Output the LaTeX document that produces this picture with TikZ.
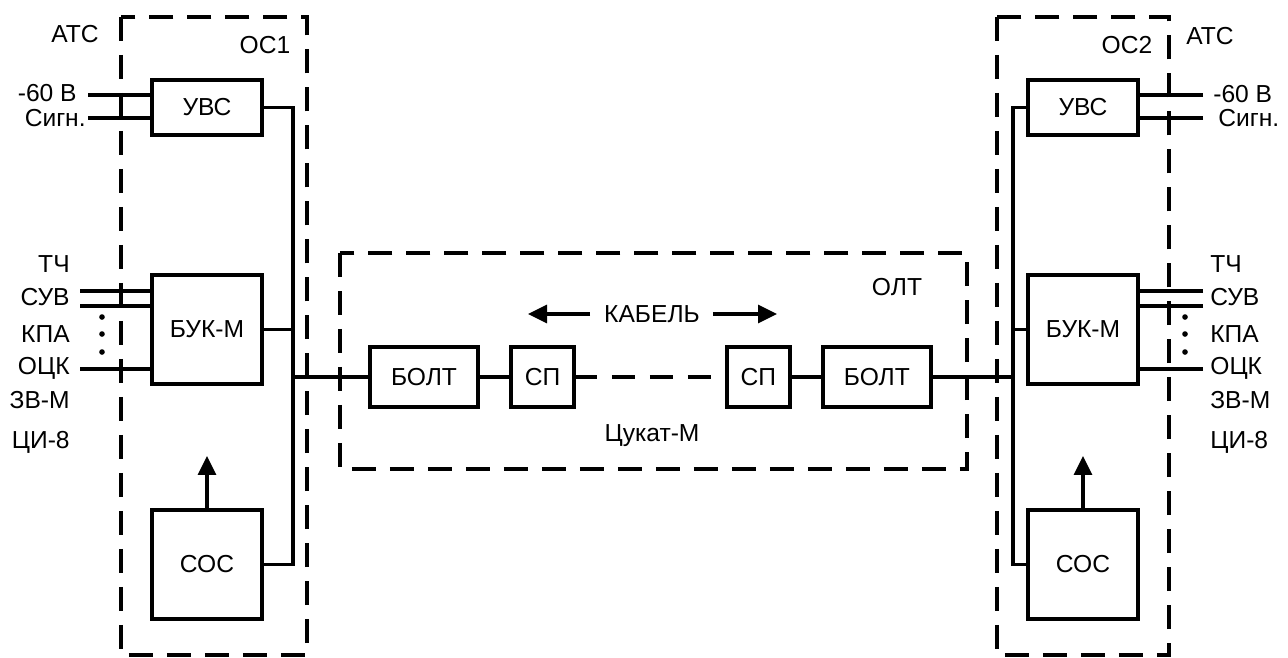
\documentclass[tikz,border=0pt]{standalone}
\usepackage{fontspec}
\setmainfont{Liberation Sans}
\usetikzlibrary{positioning,arrows.meta}
\newcommand{\myfont}{\fontsize{14pt}{16pt}\selectfont}
\newcommand{\minw}{2.2cm}
\newcommand{\minh}{1.1cm}
\newcommand{\minhb}{2.18cm}
\newcommand{\boltw}{2.16cm}
\newcommand{\spw}{1.26cm}
\newcommand{\olth}{1.2cm}
\newcommand{\xdist}{0.66cm}
\newcommand{\xdistb}{3.06cm}
\newcommand{\ydist}{2.8cm}
\newcommand{\ydistb}{2.52cm}

\tikzset{
  block/.style={rectangle, draw=black, line width=1.9pt, fill=white,
    inner sep=1pt, outer sep=0pt, text centered, font=\myfont},
  frame/.style={draw=black, line width=2.6pt, dash pattern=on 0.48cm off 0.28cm},
  wire/.style={draw=black, line width=1.8pt},
  lbl/.style={inner sep=0pt, font=\myfont},
  arr/.style={wire, -{Triangle[length=0.38cm,width=0.36cm]}},
  dotmark/.style={circle, fill=black, inner sep=0pt, minimum size=3.2pt}
}

\begin{document}
\begin{tikzpicture}[x=0.02cm, y=-0.02cm]

  \useasboundingbox (0,0) rectangle (1288,657);

  %%%%%%%%%%%%%%%%%%%%%%%%%%%%%%%%%%%%%%%%%%%%%%%%%%%%%%%%%%%%%%%%%%%%%%%%
  %%%%%%%%%%% frames
  %%%%%%%%%%%%%%%%%%%%%%%%%%%%%%%%%%%%%%%%%%%%%%%%%%%%%%%%%%%%%%%%%%%%%%%%

  % OS1 frame
  \draw[frame] (121,17) rectangle (307,655);
  % OS2 frame
  \draw[frame] (997,17) rectangle (1169,655);
  % OLT frame
  \draw[frame] (340,253) rectangle (967,469);

  %%%%%%%%%%% left station OS1

  % UVS
  \node[block, minimum width=\minw, minimum height=\minh] (uvsl) at (207,107.5) {УВС};

  % BUK-M
  \node[block, minimum width=\minw, minimum height=\minhb,
  below=\ydist of uvsl] (bukl) {БУК-М};

  % SOS
  \node[block, minimum width=\minw, minimum height=\minhb,
  below=\ydistb of bukl] (cosl) {СОС};

  % labels
  \node[lbl] (atsl) at (75,34) {АТС};
  \node[lbl] (os1) at (265,45) {ОС1};
  \node[lbl, anchor=east] (v60l) at (77,93) {-60 В};
  \node[lbl, anchor=east] (sigl) at (86,118) {Сигн.};
  \node[lbl, anchor=east] (tchl) at (70,264) {ТЧ};
  \node[lbl, anchor=east] (suvl) at (70,297) {СУВ};
  \node[lbl, anchor=east] (kpal) at (70,334) {КПА};
  \node[lbl, anchor=east] (ockl) at (70,368) {ОЦК};
  \node[lbl, anchor=east] (zvml) at (70,400) {ЗВ-М};
  \node[lbl, anchor=east] (cil) at (70,442) {ЦИ-8};

  % inputs of UVS
  \coordinate (v60la) at (88,95);
  \coordinate (sigla) at (88,118);
  \draw[wire] (v60la) -- (v60la -| uvsl.west);
  \draw[wire] (sigla) -- (sigla -| uvsl.west);

  % inputs of BUK-M
  \coordinate (in1l) at (80,291);
  \coordinate (in2l) at (80,306);
  \coordinate (in3l) at (80,369);
  \draw[wire] (in1l) -- (in1l -| bukl.west);
  \draw[wire] (in2l) -- (in2l -| bukl.west);
  \draw[wire] (in3l) -- (in3l -| bukl.west);
  \foreach \yy in {317,334,352}
    \node[dotmark] at (102,\yy) {};

  % bus of OS1
  \coordinate (busl) at (293,107.5);
  \draw[wire] (uvsl.east) -- (busl) |- (cosl.east);
  \draw[wire] (bukl.east) -- (bukl.east -| busl);

  % SOS to BUK-M
  \draw[arr] (cosl.north) -- ++(0,-54);

  %%%%%%%%%%% right station OS2

  % UVS
  \node[block, minimum width=\minw, minimum height=\minh] (uvsr) at (1083,107.5) {УВС};

  % BUK-M
  \node[block, minimum width=\minw, minimum height=\minhb,
  below=\ydist of uvsr] (bukr) {БУК-М};

  % SOS
  \node[block, minimum width=\minw, minimum height=\minhb,
  below=\ydistb of bukr] (cosr) {СОС};

  % labels
  \node[lbl] (atsr) at (1210,36) {АТС};
  \node[lbl] (os2) at (1127,45) {ОС2};
  \node[lbl, anchor=west] (v60r) at (1213,94) {-60 В};
  \node[lbl, anchor=west] (sigr) at (1218,118) {Сигн.};
  \node[lbl, anchor=west] (tchr) at (1210,264) {ТЧ};
  \node[lbl, anchor=west] (suvr) at (1210,297) {СУВ};
  \node[lbl, anchor=west] (kpar) at (1210,334) {КПА};
  \node[lbl, anchor=west] (ockr) at (1210,368) {ОЦК};
  \node[lbl, anchor=west] (zvmr) at (1210,400) {ЗВ-М};
  \node[lbl, anchor=west] (cir) at (1210,442) {ЦИ-8};

  % inputs of UVS
  \coordinate (v60ra) at (1203,95);
  \coordinate (sigra) at (1203,118);
  \draw[wire] (v60ra) -- (v60ra -| uvsr.east);
  \draw[wire] (sigra) -- (sigra -| uvsr.east);

  % inputs of BUK-M
  \coordinate (in1r) at (1203,291);
  \coordinate (in2r) at (1203,306);
  \coordinate (in3r) at (1203,369);
  \draw[wire] (in1r) -- (in1r -| bukr.east);
  \draw[wire] (in2r) -- (in2r -| bukr.east);
  \draw[wire] (in3r) -- (in3r -| bukr.east);
  \foreach \yy in {317,334,352}
    \node[dotmark] at (1185,\yy) {};

  % bus of OS2
  \coordinate (busr) at (1013,107.5);
  \draw[wire] (uvsr.west) -- (busr) |- (cosr.west);
  \draw[wire] (bukr.west) -- (bukr.west -| busr);

  % SOS to BUK-M
  \draw[arr] (cosr.north) -- ++(0,-54);

  %%%%%%%%%%% line path OLT

  % BOLT left
  \node[block, minimum width=\boltw, minimum height=\olth] (boltl) at (424,377) {БОЛТ};

  % SP left
  \node[block, minimum width=\spw, minimum height=\olth,
  right=\xdist of boltl] (spl) {СП};

  % SP right
  \node[block, minimum width=\spw, minimum height=\olth,
  right=\xdistb of spl] (spr) {СП};

  % BOLT right
  \node[block, minimum width=\boltw, minimum height=\olth,
  right=\xdist of spr] (boltr) {БОЛТ};

  % labels
  \node[lbl] (olt) at (897,287) {ОЛТ};
  \node[lbl] (kabel) at (652,314) {КАБЕЛЬ};
  \node[lbl] (cukat) at (652,436) {Цукат-М};

  % cable arrows
  \draw[arr] ([xshift=-1.24cm]kabel.center) -- ++(-62,0);
  \draw[arr] ([xshift=1.22cm]kabel.center) -- ++(64,0);

  % links
  \draw[wire] (boltl) -- (spl);
  \draw[wire, dash pattern=on 0.46cm off 0.3cm] (spl) -- (spr);
  \draw[wire] (spr) -- (boltr);
  \draw[wire] (boltl.west) -- (boltl.west -| busl);
  \draw[wire] (boltr.east) -- (boltr.east -| busr);

\end{tikzpicture}
\end{document}
